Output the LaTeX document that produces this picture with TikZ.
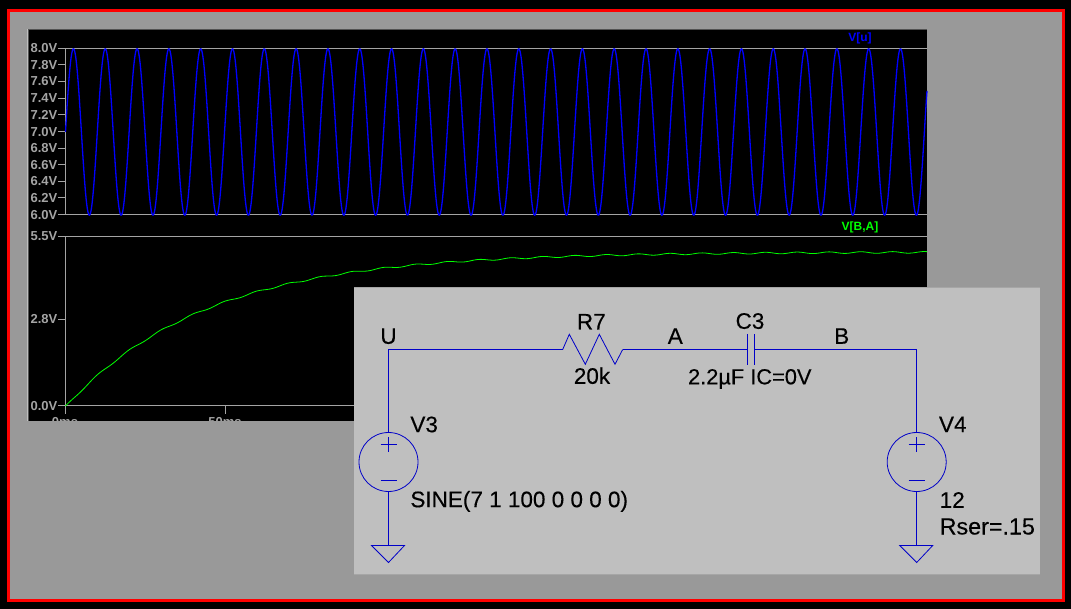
\documentclass[tikz,border=0pt]{standalone}
\usepackage{fontspec}
\setmainfont{Liberation Sans}
\newfontfamily\cctfont[FakeBold=0.25]{Liberation Sans}
\definecolor{bgblack}{HTML}{000000}
\definecolor{framegray}{HTML}{999999}
\definecolor{panelgray}{HTML}{BFBFBF}
\definecolor{axisgray}{HTML}{A4A4A4}
\definecolor{framered}{HTML}{FF0000}
\definecolor{wireblue}{HTML}{0000C8}
\definecolor{traceblue}{HTML}{0000FF}
\definecolor{tracegreen}{HTML}{00FF00}
\tikzset{
  axisline/.style={draw=axisgray,line width=1pt},
  ticklabel/.style={text=axisgray,font=\fontsize{13}{14}\selectfont\bfseries,inner sep=0pt,anchor=east},
  xlabel/.style={text=axisgray,font=\fontsize{13}{14}\selectfont\bfseries,inner sep=0pt,anchor=base},
  tracelabel/.style={font=\fontsize{12}{14}\selectfont\bfseries,inner sep=0pt,anchor=center},
  wire/.style={draw=wireblue,line width=1pt,line join=miter},
  sym/.style={draw=wireblue,line width=0.8pt},
  source/.style={circle,draw=wireblue,line width=0.8pt,minimum size=59pt,inner sep=0pt},
  cct/.style={font=\cctfont\fontsize{22.5}{24}\selectfont,text=black,inner sep=0pt,anchor=base},
  cctl/.style={cct,anchor=base west},
}
\begin{document}
\begin{tikzpicture}[x=1pt,y=-1pt]
\useasboundingbox (0,0) rectangle (1071,609);
\fill[bgblack] (0,0) rectangle (1071,609);
\filldraw[fill=framegray,draw=framered,line width=3pt] (8.5,11) rectangle (1063.5,600);
% plot window
\fill[bgblack] (28,29) rectangle (927,421);
\draw[draw=black!68,line width=1pt] (28,29.5) -- (927,29.5);
\draw[draw=panelgray,line width=1pt] (27.5,29) -- (27.5,421);
\draw[draw=black!68,line width=1pt] (28.5,30) -- (28.5,421);
% top pane axes
\draw[axisline] (65.5,48.5) -- (927,48.5);
\draw[axisline] (65.5,215) -- (927,215);
\draw[axisline] (65.5,48.5) -- (65.5,215);
\foreach \yy/\lab in {48.5/8.0V,65/7.8V,81.5/7.6V,98.2/7.4V,115/7.2V,132/7.0V,148.5/6.8V,165/6.6V,181.5/6.4V,198/6.2V,215/6.0V}{
  \draw[axisline] (58,\yy) -- (65.5,\yy);
  \node[ticklabel] (yl\lab) at (57.5,\yy) {\lab};
}
% bottom pane axes
\draw[axisline] (65.5,236.5) -- (927,236.5);
\draw[axisline] (65.5,406) -- (927,406);
\draw[axisline] (65.5,236.5) -- (65.5,414);
\draw[axisline] (225.5,406) -- (225.5,414);
\foreach \yy/\lab in {236.5/5.5V,319.5/2.8V,406/0.0V}{
  \draw[axisline] (58,\yy) -- (65.5,\yy);
  \node[ticklabel] (yr\lab) at (57.5,\yy) {\lab};
}
\begin{scope}
\clip (28,29) rectangle (927,421);
\node[xlabel] (xa) at (65,427) {0ms};
\node[xlabel] (xb) at (225,427) {50ms};
\end{scope}
\node[tracelabel,text=traceblue] (lu) at (860,38.7) {V[u]};
\node[tracelabel,text=tracegreen] (lba) at (860,227.3) {V[B,A]};
% traces
\draw[traceblue,line width=1.3pt,line join=round]
  plot[domain=65.5:927,samples=1500] (\x,{132-83.25*sin((\x-65.5)/31.81*360)});
\draw[tracegreen,line width=0.8pt,line join=round]
  plot[domain=65.5:927,samples=600] (\x,{406-30.8*(5*(1-exp(-(\x-65.5)/141))+0.026*(cos((\x-65.5)/31.81*360)-exp(-(\x-65.5)/141)))});
% schematic panel
\fill[panelgray] (354,287) rectangle (1040,574);
\draw[black!35,line width=1pt] (354,287.5) -- (1040,287.5);
\draw[black!35,line width=1pt] (354,574) -- (1040,574);
% schematic
\coordinate (U) at (388.5,349.5);
\coordinate (Rl) at (562.7,349.5);
\coordinate (Rr) at (622.7,349.5);
\coordinate (Cl) at (747.5,349.5);
\coordinate (Cr) at (754.5,349.5);
\coordinate (TR) at (916.7,349.5);
\node[source] (V3) at (388.5,462) {};
\node[source] (V4) at (916.7,462) {};
\coordinate (G3) at (388.5,545.5);
\coordinate (G4) at (916.7,545.5);
\draw[wire] (V3.north) -- (U) -- (Rl);
\draw[sym] (Rl) -- (569.3,334.3) -- (585.3,364.3) -- (599.3,334.3) -- (615,364.3) -- (Rr);
\draw[wire] (Rr) -- (Cl);
\draw[wire] (Cr) -- (TR) -- (V4.north);
\draw[sym,line width=1pt] (747.5,334) -- (747.5,365);
\draw[sym,line width=1pt] (754.5,334) -- (754.5,365);
\draw[wire] (V3.south) -- (G3);
\draw[wire] (V4.south) -- (G4);
\foreach \c/\g in {V3/G3,V4/G4}{
  \draw[sym] ([xshift=-8pt,yshift=17.7pt]\c.center) -- ([xshift=8pt,yshift=17.7pt]\c.center);
  \draw[sym] ([yshift=25pt]\c.center) -- ([yshift=10pt]\c.center);
  \draw[sym] ([xshift=-8pt,yshift=-18.3pt]\c.center) -- ([xshift=8pt,yshift=-18.3pt]\c.center);
  \draw[sym,line join=miter] ([xshift=-17pt]\g) -- ([xshift=16pt]\g) -- ([yshift=-17pt]\g) -- cycle;
}
% labels
\node[cct] (tU) at (388.5,343.8) {U};
\node[cct] (tR) at (591.3,329.5) {R7};
\node[cct] (tRv) at (592,383.8) {20k};
\node[cct] (tA) at (675.3,343.8) {A};
\node[cct] (tC) at (750,328.8) {C3};
\node[cct,font=\cctfont\fontsize{21.8}{24}\selectfont] (tCv) at (749.8,384.3) {2.2µF IC=0V};
\node[cct] (tB) at (841.7,343.8) {B};
\node[cctl] (tV3) at (410.2,432.2) {V3};
\node[cctl] (tS) at (410.2,507.2) {SINE(7 1 100 0 0 0 0)};
\node[cctl] (tV4) at (938.8,432.2) {V4};
\node[cctl] (t12) at (939.5,507.8) {12};
\node[cctl,font=\cctfont\fontsize{23.3}{24}\selectfont] (tRs) at (939.5,534.5) {Rser=.15};
\end{tikzpicture}
\end{document}
